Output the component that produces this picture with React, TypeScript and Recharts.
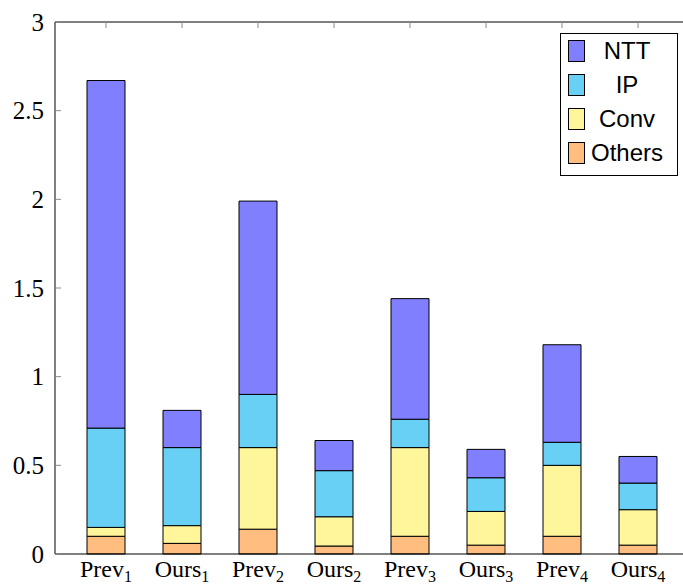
import React from "react";
import { BarChart, Bar, XAxis, YAxis, Legend } from "recharts";

const categoryBases = ["Prev", "Ours", "Prev", "Ours", "Prev", "Ours", "Prev", "Ours"];
const categorySubs = ["1", "1", "2", "2", "3", "3", "4", "4"];

const othersValues = [0.1, 0.06, 0.14, 0.045, 0.1, 0.05, 0.1, 0.05];
const convValues = [0.05, 0.1, 0.46, 0.165, 0.5, 0.19, 0.4, 0.2];
const ipValues = [0.56, 0.44, 0.3, 0.26, 0.16, 0.19, 0.13, 0.15];
const nttValues = [1.96, 0.21, 1.09, 0.17, 0.68, 0.16, 0.55, 0.15];

const yTicks = [0, 0.5, 1, 1.5, 2, 2.5, 3];
const yTickLabels = ["0", "0.5", "1", "1.5", "2", "2.5", "3"];

const seriesNames = ["Others", "Conv", "IP", "NTT"];
const seriesColors = ["#ffbe7f", "#fff59b", "#69d0f5", "#8080ff"];

const data = categoryBases.map((b, i) => ({
  name: b + categorySubs[i],
  Others: othersValues[i],
  Conv: convValues[i],
  IP: ipValues[i],
  NTT: nttValues[i],
}));

const serif = "'Liberation Serif', 'Times New Roman', serif";
const sans = "'Liberation Sans', Arial, sans-serif";
const tickColor = "#8a8a8a";

const XTick = (props: any) => {
  const { x, y, payload, index } = props;
  const i = typeof index === "number" ? index : data.findIndex((d) => d.name === payload.value);
  const base = categoryBases[i] ?? "";
  const sub = categorySubs[i] ?? "";
  return (
    <text x={x} y={y + 23} textAnchor="middle" fontFamily={serif} fontSize={24} fill="#000">
      {base}
      <tspan dy={5} fontSize={16}>{sub}</tspan>
    </text>
  );
};

const TopTick = (props: any) => {
  const { x, y } = props;
  return <line x1={x} x2={x} y1={y} y2={y + 6} stroke={tickColor} strokeWidth={1} />;
};

const RightTick = (props: any) => {
  const { x, y } = props;
  return <line x1={x - 6} x2={x} y1={y} y2={y} stroke={tickColor} strokeWidth={1} />;
};

const YTick = (props: any) => {
  const { x, y, payload } = props;
  const idx = yTicks.indexOf(payload.value);
  const label = idx >= 0 ? yTickLabels[idx] : String(payload.value);
  return (
    <g>
      <text x={x} y={y} dy="0.35em" textAnchor="end" fontFamily={serif} fontSize={25} fill="#000">
        {label}
      </text>
      <line x1={x + 11} x2={x + 17} y1={y} y2={y} stroke={tickColor} strokeWidth={1} />
    </g>
  );
};

const LegendContent = (props: any) => {
  const payload = (props.payload || [])
    .slice()
    .sort((a: any, b: any) => seriesNames.indexOf(b.value) - seriesNames.indexOf(a.value));
  return (
    <div
      style={{
        width: 118,
        height: 143,
        border: "1px solid #000",
        background: "#fff",
        boxSizing: "border-box",
        position: "relative",
        fontFamily: sans,
        fontSize: 24,
        color: "#000",
      }}
    >
      {payload.map((p: any, i: number) => (
        <div key={p.value} style={{ position: "absolute", left: 0, top: i * 34, width: "100%", height: 34 }}>
          <div
            style={{
              position: "absolute",
              left: 7,
              top: 6,
              width: 17,
              height: 22,
              boxSizing: "border-box",
              border: "1px solid #000",
              background: p.color,
            }}
          />
          <span
            style={{
              position: "absolute",
              left: 66,
              top: 17,
              transform: "translate(-50%, -50%)",
              whiteSpace: "nowrap",
              lineHeight: 1,
            }}
          >
            {p.value}
          </span>
        </div>
      ))}
    </div>
  );
};

export default function App() {
  return (
    <div style={{ position: "absolute", left: 0, top: 0, background: "#fff" }}>
      <BarChart
        width={700}
        height={585}
        data={data}
        margin={{ top: 21, right: 13, bottom: 0, left: 0 }}
      >
        <XAxis
          dataKey="name"
          height={31}
          tickLine={false}
          tickSize={0}
          tickMargin={0}
          padding={{ left: 13, right: 10 }}
          axisLine={{ stroke: "#000", strokeWidth: 1 }}
          tick={<XTick />}
          interval={0}
        />
        <XAxis
          xAxisId="top"
          dataKey="name"
          orientation="top"
          height={1}
          tick={<TopTick />}
          tickSize={0}
          tickMargin={0}
          tickLine={false}
          padding={{ left: 13, right: 10 }}
          axisLine={{ stroke: "#000", strokeWidth: 1 }}
          interval={0}
        />
        <YAxis
          width={55}
          domain={[0, 3]}
          ticks={yTicks}
          tickLine={false}
          tickSize={0}
          tickMargin={11}
          axisLine={{ stroke: "#000", strokeWidth: 1 }}
          tick={<YTick />}
          interval={0}
        />
        <YAxis
          yAxisId="right"
          orientation="right"
          width={1}
          domain={[0, 3]}
          ticks={yTicks}
          tick={<RightTick />}
          tickSize={0}
          tickMargin={0}
          tickLine={false}
          axisLine={{ stroke: "#000", strokeWidth: 1 }}
          interval={0}
        />
        <Legend
          layout="vertical"
          align="center"
          verticalAlign="middle"
          content={<LegendContent />}
          wrapperStyle={{ position: "absolute", left: 560, top: 33, width: 118, height: 143 }}
        />
        {seriesNames.map((s, i) => (
          <Bar
            key={s}
            dataKey={s}
            name={s}
            stackId="a"
            fill={seriesColors[i]}
            stroke="#000"
            strokeWidth={1}
            barSize={38}
            isAnimationActive={false}
          />
        ))}
      </BarChart>
    </div>
  );
}
